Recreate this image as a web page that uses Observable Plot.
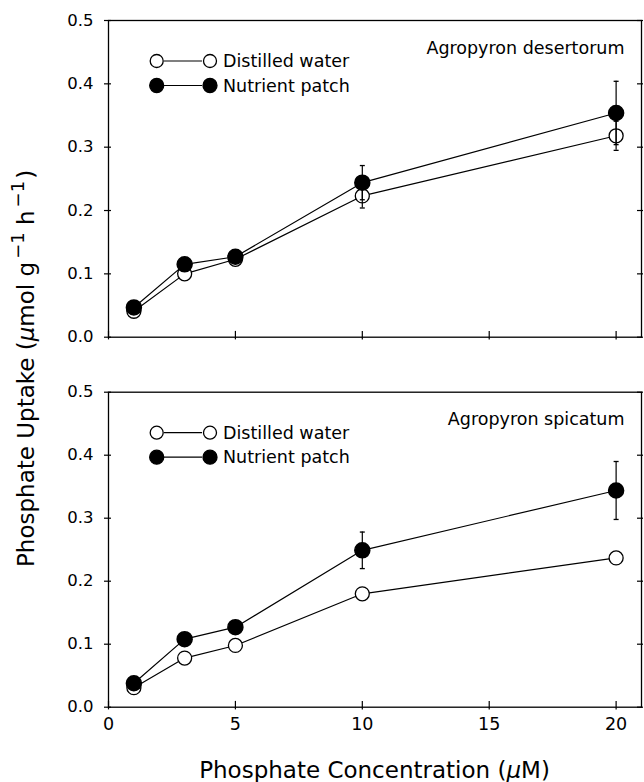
<!DOCTYPE html>
<html><head><meta charset="utf-8">
<script src="https://cdn.jsdelivr.net/npm/d3@7"></script>
<script src="https://cdn.jsdelivr.net/npm/@observablehq/plot@0.6"></script>
<style>
body{margin:0;background:#fff}
#chart{position:relative;width:644px;height:782px;overflow:hidden;background:#fff}
.abs{position:absolute;left:0}
</style>
</head><body><div id="chart"></div>
<script>
// ---- data ----
const conc = [1, 3, 5, 10, 20];
const xTicks = [0, 5, 10, 15, 20];
const yTicks = [0, 0.1, 0.2, 0.3, 0.4, 0.5];
const seriesNames = ["Distilled water", "Nutrient patch"];
const speciesNames = ["Agropyron desertorum", "Agropyron spicatum"];
const desertDistilled   = [0.041, 0.100, 0.123, 0.223, 0.318];
const desertNutrient    = [0.047, 0.115, 0.127, 0.244, 0.354];
const desertDistilledSE = [0, 0, 0, 0.019, 0.023];
const desertNutrientSE  = [0, 0, 0, 0.027, 0.050];
const spicDistilled     = [0.031, 0.078, 0.098, 0.180, 0.237];
const spicNutrient      = [0.038, 0.108, 0.127, 0.249, 0.344];
const spicDistilledSE   = [0, 0, 0, 0, 0];
const spicNutrientSE    = [0, 0, 0, 0.029, 0.046];
const font = "DejaVu Sans";

const capSymbol = {draw(ctx, size){const w = Math.sqrt(size/Math.PI); ctx.moveTo(-w,0); ctx.lineTo(w,0);}};

function panel(species, dist, nut, seD, seN, showXLabels, height, marginTop, marginBottom){
  const dD = conc.map((c,i)=>({x:c, y:dist[i], se:seD[i]}));
  const dN = conc.map((c,i)=>({x:c, y:nut[i], se:seN[i]}));
  const errs = dD.concat(dN).filter(d=>d.se>0);
  const caps = errs.flatMap(d=>[{x:d.x, y:d.y+d.se},{x:d.x, y:d.y-d.se}]);
  return Plot.plot({
    width: 644, height, marginLeft: 108, marginRight: 3, marginTop, marginBottom,
    x: {domain: [0, 21], label: null},
    y: {domain: [0, 0.5], label: null},
    style: {fontFamily: font, fontSize: "16.5px", background: "transparent", color: "black"},
    marks: [
      Plot.frame({stroke: "black", strokeWidth: 1.3}),
      Plot.axisY({ticks: yTicks, tickSize: 7, dx: 3, tickFormat: () => "", strokeWidth: 1.2}),
      Plot.axisY({ticks: yTicks, tickSize: 0, tickPadding: 15, tickFormat: d3.format(".1f"), fill: "black"}),
      Plot.axisY({anchor: "right", ticks: yTicks, tickSize: 6, dx: -5, tickFormat: () => "", strokeWidth: 1.2}),
      Plot.axisX({ticks: xTicks, tickSize: 8.5, dy: -5.8, tickFormat: () => "", strokeWidth: 1.2}),
      showXLabels ? Plot.axisX({ticks: xTicks, tickSize: 0, tickPadding: 10, tickFormat: d => String(d), fontSize: 17.5, fill: "black"}) : null,
      Plot.line(dD, {x: "x", y: "y", stroke: "black", strokeWidth: 1.2}),
      Plot.line(dN, {x: "x", y: "y", stroke: "black", strokeWidth: 1.2}),
      Plot.dot(dD, {x: "x", y: "y", r: 7, fill: "white", stroke: "black", strokeWidth: 1.3}),
      Plot.ruleX(errs, {x: "x", y1: d => d.y - d.se, y2: d => d.y + d.se, stroke: "black", strokeWidth: 1.2}),
      Plot.dot(caps, {x: "x", y: "y", symbol: capSymbol, r: 2.5, stroke: "black", fill: "none", strokeWidth: 1.3}),
      Plot.dot(dN, {x: "x", y: "y", r: 7.5, fill: "black", stroke: "black"}),
      Plot.text([species], {text: d => d, frameAnchor: "top-right", dx: -17, dy: 27.5, lineAnchor: "middle", textAnchor: "end", fontSize: 17.5, fill: "black"})
    ]
  });
}

const chart = document.getElementById("chart");
const NS = "http://www.w3.org/2000/svg";

function place(el, top){ el.classList.add("abs"); el.style.top = top + "px"; chart.appendChild(el); }

place(panel(speciesNames[0], desertDistilled, desertNutrient, desertDistilledSE, desertNutrientSE, false, 350, 20, 13.3), 0);
place(panel(speciesNames[1], spicDistilled, spicNutrient, spicDistilledSE, spicNutrientSE, true, 432, 41.7, 75.3), 350);

// overlay for legends and axis titles
const ov = document.createElementNS(NS, "svg");
ov.setAttribute("width", 644); ov.setAttribute("height", 782);
ov.style.position = "absolute"; ov.style.left = "0"; ov.style.top = "0";
ov.setAttribute("font-family", font);
chart.appendChild(ov);
function el(tag, attrs, parent){ const e = document.createElementNS(NS, tag); for (const k in attrs) e.setAttribute(k, attrs[k]); (parent||ov).appendChild(e); return e; }

// legends (one in each panel)
[20, 391.7].forEach(top => {
  seriesNames.forEach((name, i) => {
    const y = top + 41 + i * 24.5;
    const filled = i === 1;
    const r = filled ? 7 : 6.5;
    el("line", {x1: 164, x2: 202, y1: y, y2: y, stroke: "black", "stroke-width": 1.2});
    el("circle", {cx: 156.7, cy: y, r, fill: filled ? "black" : "white", stroke: "black", "stroke-width": 1.3});
    el("circle", {cx: 210, cy: y, r, fill: filled ? "black" : "white", stroke: "black", "stroke-width": 1.3});
    const t = el("text", {x: 223, y, "font-size": 17.5, "dominant-baseline": "central", fill: "black"});
    t.textContent = name;
  });
});

// x axis title
const xt = el("text", {x: 374.5, y: 777.5, "text-anchor": "middle", "font-size": 23, fill: "black"});
el("tspan", {}, xt).textContent = "Phosphate Concentration (";
el("tspan", {"font-style": "italic"}, xt).textContent = "μ";
el("tspan", {}, xt).textContent = "M)";

// y axis title
const yt = el("text", {transform: "translate(34,567) rotate(-90)", "text-anchor": "start", "font-size": 23, fill: "black"});
el("tspan", {}, yt).textContent = "Phosphate Uptake (";
el("tspan", {"font-style": "italic"}, yt).textContent = "μ";
el("tspan", {}, yt).textContent = "mol g";
el("tspan", {dx: 3, dy: -10, "font-size": 18}, yt).textContent = "−1";
el("tspan", {dy: 10}, yt).textContent = "  h";
el("tspan", {dx: 3, dy: -10, "font-size": 18}, yt).textContent = "−1";
el("tspan", {dx: 2, dy: 10}, yt).textContent = ")";
</script></body></html>
